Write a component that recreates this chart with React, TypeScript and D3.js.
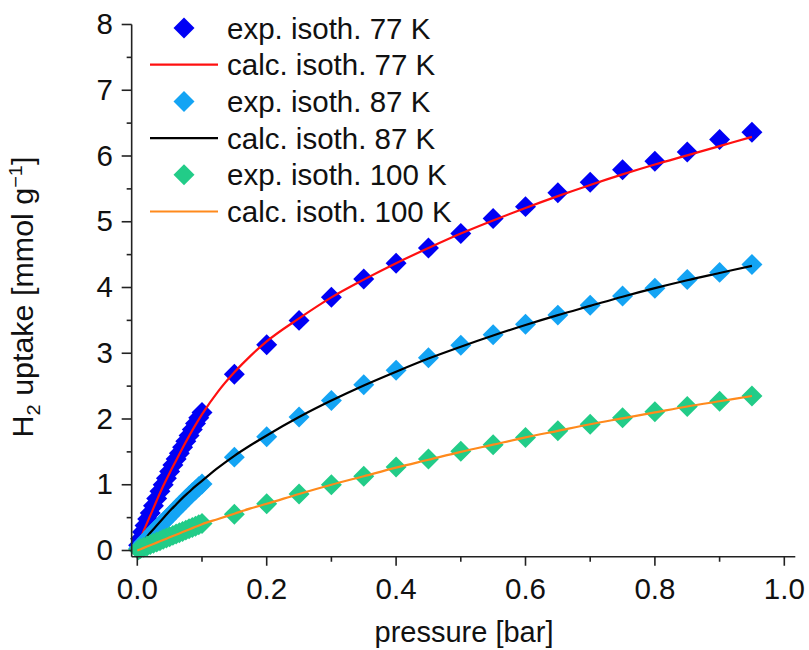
import React from "react";
import * as d3 from "d3";

// ---------- data ----------
const expPressure77 = [0.002, 0.005, 0.008, 0.012, 0.016, 0.02, 0.025, 0.03, 0.035, 0.04, 0.045, 0.05, 0.055, 0.06, 0.065, 0.07, 0.075, 0.08, 0.085, 0.09, 0.095, 0.1,
  0.15, 0.2, 0.25, 0.3, 0.35, 0.4, 0.45, 0.5, 0.55, 0.6, 0.65, 0.7, 0.75, 0.8, 0.85, 0.9, 0.95];
const expUptake77 = [0.08, 0.18, 0.28, 0.38, 0.48, 0.57, 0.68, 0.79, 0.9, 1.0, 1.1, 1.2, 1.3, 1.39, 1.48, 1.57, 1.66, 1.75, 1.84, 1.93, 2.02, 2.1,
  2.68, 3.13, 3.5, 3.85, 4.13, 4.37, 4.6, 4.82, 5.05, 5.23, 5.44, 5.6, 5.79, 5.92, 6.06, 6.25, 6.36];

const expPressure87 = [0.002, 0.005, 0.01, 0.015, 0.02, 0.025, 0.03, 0.035, 0.04, 0.045, 0.05, 0.055, 0.06, 0.065, 0.07, 0.075, 0.08, 0.085, 0.09, 0.095, 0.1,
  0.15, 0.2, 0.25, 0.3, 0.35, 0.4, 0.45, 0.5, 0.55, 0.6, 0.65, 0.7, 0.75, 0.8, 0.85, 0.9, 0.95];
const expUptake87 = [0.03, 0.06, 0.12, 0.17, 0.22, 0.28, 0.33, 0.38, 0.43, 0.48, 0.53, 0.58, 0.63, 0.68, 0.73, 0.78, 0.83, 0.88, 0.92, 0.97, 1.01,
  1.42, 1.73, 2.03, 2.28, 2.52, 2.74, 2.93, 3.12, 3.28, 3.44, 3.58, 3.73, 3.87, 3.99, 4.12, 4.23, 4.35];

const expPressure100 = [0.002, 0.005, 0.01, 0.015, 0.02, 0.025, 0.03, 0.035, 0.04, 0.045, 0.05, 0.055, 0.06, 0.065, 0.07, 0.075, 0.08, 0.085, 0.09, 0.095, 0.1,
  0.15, 0.2, 0.25, 0.3, 0.35, 0.4, 0.45, 0.5, 0.55, 0.6, 0.65, 0.7, 0.75, 0.8, 0.85, 0.9, 0.95];
const expUptake100 = [0.01, 0.03, 0.05, 0.07, 0.09, 0.11, 0.13, 0.15, 0.17, 0.19, 0.21, 0.23, 0.25, 0.27, 0.29, 0.31, 0.33, 0.35, 0.37, 0.39, 0.41,
  0.55, 0.71, 0.86, 1.0, 1.13, 1.27, 1.39, 1.51, 1.61, 1.72, 1.82, 1.92, 2.02, 2.11, 2.19, 2.27, 2.35];

const calcPressure77 = [0.005, 0.01, 0.02, 0.03, 0.04, 0.05, 0.06, 0.07, 0.08, 0.09, 0.1, 0.125, 0.15, 0.175, 0.2, 0.25, 0.3, 0.35, 0.4, 0.45, 0.5, 0.55, 0.6, 0.65, 0.7, 0.75, 0.8, 0.85, 0.9, 0.95];
const calcUptake77 = [0.17, 0.3, 0.53, 0.76, 0.98, 1.18, 1.37, 1.56, 1.74, 1.91, 2.07, 2.42, 2.71, 2.96, 3.18, 3.53, 3.85, 4.12, 4.37, 4.6, 4.82, 5.02, 5.21, 5.39, 5.56, 5.72, 5.87, 6.01, 6.15, 6.29];

const calcPressure87 = [0.008, 0.02, 0.03, 0.04, 0.05, 0.06, 0.07, 0.08, 0.09, 0.1, 0.125, 0.15, 0.175, 0.2, 0.25, 0.3, 0.35, 0.4, 0.45, 0.5, 0.55, 0.6, 0.65, 0.7, 0.75, 0.8, 0.85, 0.9, 0.95];
const calcUptake87 = [0.12, 0.27, 0.38, 0.49, 0.6, 0.7, 0.8, 0.89, 0.98, 1.06, 1.26, 1.44, 1.6, 1.75, 2.03, 2.28, 2.51, 2.72, 2.92, 3.1, 3.27, 3.43, 3.58, 3.72, 3.86, 3.99, 4.11, 4.22, 4.33];

const calcPressure100 = [0.0, 0.01, 0.02, 0.03, 0.04, 0.05, 0.06, 0.07, 0.08, 0.09, 0.1, 0.125, 0.15, 0.175, 0.2, 0.25, 0.3, 0.35, 0.4, 0.45, 0.5, 0.55, 0.6, 0.65, 0.7, 0.75, 0.8, 0.85, 0.9, 0.95];
const calcUptake100 = [0.0, 0.04, 0.08, 0.12, 0.16, 0.2, 0.24, 0.28, 0.32, 0.36, 0.4, 0.48, 0.56, 0.64, 0.71, 0.86, 1.0, 1.13, 1.26, 1.38, 1.5, 1.61, 1.72, 1.82, 1.92, 2.01, 2.1, 2.19, 2.27, 2.35];

const xTicksMajor = [0, 0.2, 0.4, 0.6, 0.8, 1.0];
const xTicksMinor = [0.1, 0.3, 0.5, 0.7, 0.9];
const yTicksMajor = [0, 1, 2, 3, 4, 5, 6, 7, 8];
const yTicksMinor = [0.5, 1.5, 2.5, 3.5, 4.5, 5.5, 6.5, 7.5];

const legendLabels = [
  "exp. isoth. 77 K",
  "calc. isoth. 77 K",
  "exp. isoth. 87 K",
  "calc. isoth. 87 K",
  "exp. isoth. 100 K",
  "calc. isoth. 100 K",
];

const COL_BLUE = "#0000f5";
const COL_RED = "#ff1010";
const COL_LBLUE = "#14a4f4";
const COL_BLACK = "#000000";
const COL_GREEN = "#22cc88";
const COL_ORANGE = "#ff8a1c";

const FONT = "'Liberation Sans', Arial, Helvetica, sans-serif";

export default function App() {
  const W = 809, H = 650;
  const x = d3.scaleLinear().domain([0, 1]).range([137.3, 784.3]);
  const y = d3.scaleLinear().domain([0, 8]).range([550.5, 24.5]);
  const xAxisMin = -0.0087, xAxisMax = 1.017;
  const yAxisMin = -0.095;
  const axisY = y(yAxisMin);
  const axisX = x(xAxisMin);

  const line = d3.line<[number, number]>()
    .x((d) => x(d[0]))
    .y((d) => y(d[1]))
    .curve(d3.curveMonotoneX);

  const diamond = d3.symbol().type(d3.symbolSquare).size(220)();

  const zip = (a: number[], b: number[]) => a.map((v, i) => [v, b[i]] as [number, number]);

  const exp = [
    { p: expPressure77, u: expUptake77, c: COL_BLUE },
    { p: expPressure87, u: expUptake87, c: COL_LBLUE },
    { p: expPressure100, u: expUptake100, c: COL_GREEN },
  ];
  const calc = [
    { p: calcPressure77, u: calcUptake77, c: COL_RED },
    { p: calcPressure87, u: calcUptake87, c: COL_BLACK },
    { p: calcPressure100, u: calcUptake100, c: COL_ORANGE },
  ];

  const txt = (s: string, tx: number, ty: number, anchor: string, fs: number, key?: any) => (
    <text key={key} x={tx} y={ty} textAnchor={anchor}
      fontFamily={FONT} fontSize={fs} fill="#111">{s}</text>
  );

  const legendX = 184;
  const legendY0 = 28;
  const legendDy = 36.7;

  return (
    <svg width={W} height={H} style={{ position: "absolute", left: 0, top: 0, background: "#fff" }}>
      <rect x={0} y={0} width={W} height={H} fill="#fff" />
      {[0, 1, 2].map((k) => (
        <g key={k}>
          <g fill={exp[k].c}>
            {zip(exp[k].p, exp[k].u).map((d, i) => (
              <path key={i} d={diamond!} transform={`translate(${x(d[0])},${y(d[1])}) rotate(45)`} />
            ))}
          </g>
          <path d={line(zip(calc[k].p, calc[k].u))!} fill="none" stroke={calc[k].c} strokeWidth={2.2} />
        </g>
      ))}

      {/* axes */}
      <g stroke="#222" strokeWidth={1.6} fill="none">
        <line x1={axisX} x2={x(xAxisMax)} y1={axisY} y2={axisY} />
        <line x1={axisX} x2={axisX} y1={axisY} y2={y(8)} />
        {xTicksMajor.map((t) => <line key={"xM" + t} x1={x(t)} x2={x(t)} y1={axisY} y2={axisY + 9} />)}
        {xTicksMinor.map((t) => <line key={"xm" + t} x1={x(t)} x2={x(t)} y1={axisY} y2={axisY + 5} />)}
        {yTicksMajor.map((t) => <line key={"yM" + t} x1={axisX} x2={axisX - 10} y1={y(t)} y2={y(t)} />)}
        {yTicksMinor.map((t) => <line key={"ym" + t} x1={axisX} x2={axisX - 5} y1={y(t)} y2={y(t)} />)}
      </g>
      {xTicksMajor.map((t) => txt(t.toFixed(1), x(t), 599, "middle", 29.5, "xl" + t))}
      {yTicksMajor.map((t) => txt(String(t), 113, y(t) + 9.5, "end", 29.5, "yl" + t))}

      {/* axis titles */}
      {txt("pressure [bar]", 464, 642, "middle", 29, "xt")}
      <text transform={`translate(33,297) rotate(-90) scale(1.05,1)`} textAnchor="middle"
        fontFamily={FONT} fontSize={29} fill="#111">
        H<tspan fontSize={19} dy={7}>2</tspan><tspan dy={-7}> uptake [mmol g</tspan>
        <tspan fontSize={19} dy={-11}>−1</tspan><tspan dy={11}>]</tspan>
      </text>

      {/* legend */}
      {legendLabels.map((lab, i) => {
        const ly = legendY0 + i * legendDy;
        const isExp = i % 2 === 0;
        const col = [COL_BLUE, COL_RED, COL_LBLUE, COL_BLACK, COL_GREEN, COL_ORANGE][i];
        return (
          <g key={"lg" + i}>
            {isExp ? (
              <path d={diamond!} fill={col} transform={`translate(${legendX},${ly}) rotate(45)`} />
            ) : (
              <line x1={150} x2={218} y1={ly} y2={ly} stroke={col} strokeWidth={2.2} />
            )}
            {txt(lab, 227, ly + 10.5, "start", 29.5)}
          </g>
        );
      })}
    </svg>
  );
}
